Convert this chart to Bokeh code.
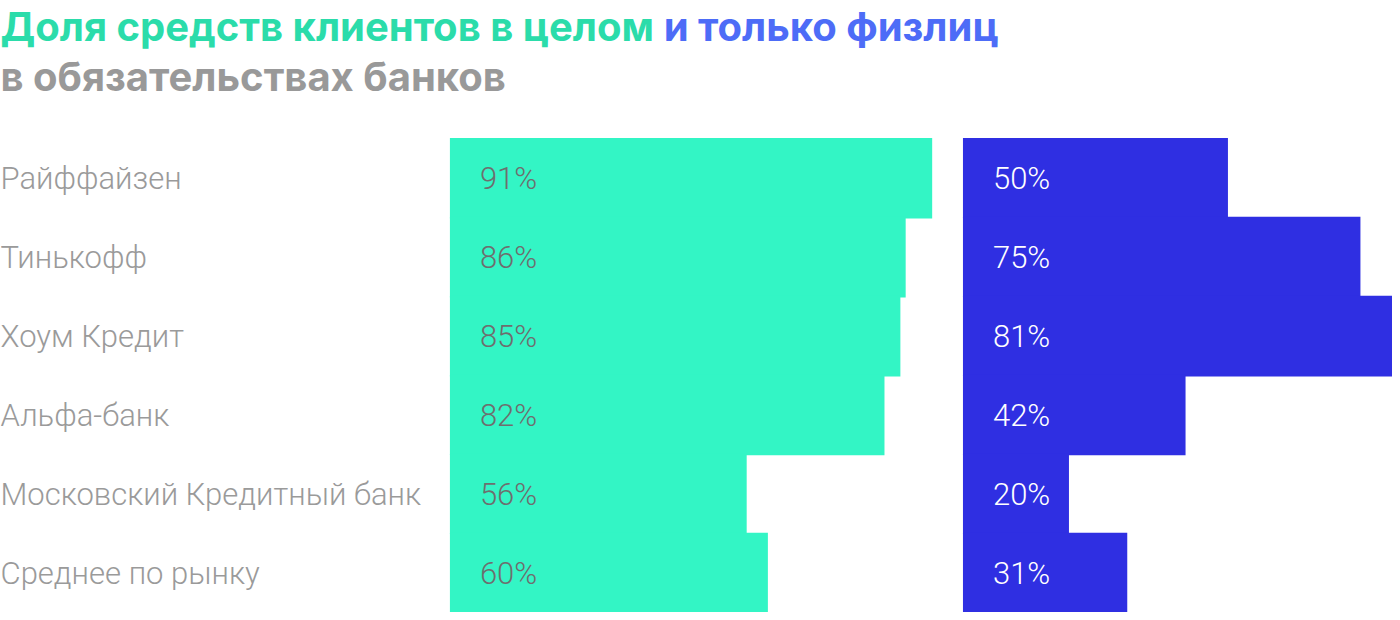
from bokeh.plotting import figure
from bokeh.models import ColumnDataSource, Range1d
from bokeh.core.properties import value
from bokeh.embed import file_html
from bokeh.resources import INLINE

banks = ["Райффайзен", "Тинькофф", "Хоум Кредит", "Альфа-банк",
         "Московский Кредитный банк", "Среднее по рынку"]
total_share = [91, 86, 85, 82, 56, 60]
retail_share = [50, 75, 81, 42, 20, 31]
title_green = "Доля средств клиентов в целом"
title_blue = "и только физлиц"
title_line2 = "в обязательствах банков"

W, H = 1392, 612
SX, SY = W / 1400, H / 620
PX = 5.33 * SX            # pixels per percent
ZERO_PX = 452 * SX        # pixel where green bars start
BLUE_PX = 968 * SX        # pixel where blue bars start
ROW = 80 * SY             # row height px
BLUE_OFF = (BLUE_PX - ZERO_PX) / PX

x0 = -ZERO_PX / PX
x1 = x0 + W / PX
y_bottom = len(banks) - 0.5
y_top = y_bottom - H / ROW

idx = list(range(len(banks)))
src = ColumnDataSource(dict(
    y=idx, bank=banks, total=total_share, retail=retail_share,
    total_lbl=[f"{v}%" for v in total_share],
    retail_lbl=[f"{v}%" for v in retail_share],
    blue_left=[BLUE_OFF] * len(banks),
    blue_right=[BLUE_OFF + v for v in retail_share],
    zero=[0] * len(banks),
    lab_x=[x0] * len(banks),
))

p = figure(width=W, height=H, output_backend="svg", toolbar_location=None,
           x_range=Range1d(x0, x1), y_range=Range1d(y_bottom, y_top),
           min_border=0, outline_line_color=None)
p.axis.visible = False
p.grid.visible = False
p.background_fill_color = "white"
p.border_fill_color = "white"

p.hbar(y="y", left="zero", right="total", height=1.02, source=src,
       fill_color="#33f5c5", line_color=None)
p.hbar(y="y", left="blue_left", right="blue_right", height=1.02, source=src,
       fill_color="#2f2fe2", line_color=None)

lab_font = value("Roboto Light, Roboto")
p.text(x="lab_x", y="y", text="bank", source=src, text_align="left",
       text_baseline="middle", text_color="#9a9a9a",
       text_font=lab_font, text_font_size="31px")
p.text(x="zero", y="y", text="total_lbl", source=src, text_align="left",
       text_baseline="middle", text_color="#6e6e6e", x_offset=30,
       text_font=lab_font, text_font_size="31px")
p.text(x="blue_left", y="y", text="retail_lbl", source=src, text_align="left",
       text_baseline="middle", text_color="#ffffff", x_offset=30,
       text_font=lab_font, text_font_size="31px")

def ypx(px):
    return y_top + px / ROW

def xpx(px):
    return x0 + px / PX

title_font = dict(text_font=value("Inter"), text_font_style="bold",
                  text_font_size="40px", text_baseline="alphabetic",
                  text_align="left")
p.text(x=[xpx(0)], y=[ypx(26)], text=[title_green],
       text_color="#2bdcaa", **title_font)
p.text(x=[xpx(667 * SX)], y=[ypx(26)], text=[title_blue],
       text_color="#4d6cf7", **title_font)
p.text(x=[xpx(0)], y=[ypx(76)], text=[title_line2],
       text_color="#999999", **title_font)

open("out.html", "w").write(file_html(p, INLINE))
